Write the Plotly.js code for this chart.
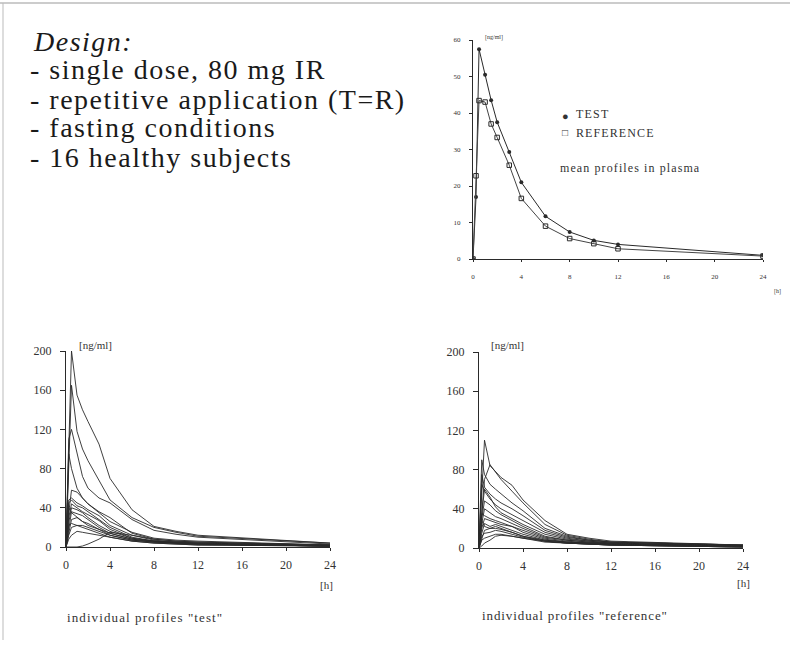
<!DOCTYPE html>
<html>
<head>
<meta charset="utf-8">
<script src="https://cdn.plot.ly/plotly-3.0.1.min.js"></script>
<style>html,body{margin:0;padding:0;background:#fff;}#chart{width:790px;height:649px;}</style>
</head>
<body>
<div id="chart"></div>
<script>
// Sampling times [h]
const times = [0, 0.25, 0.5, 1, 1.5, 2, 3, 4, 6, 8, 10, 12, 24];

// Mean profiles in plasma [ng/ml]
const meanTest = [0, 17, 57.5, 50.5, 43.5, 37.5, 29.3, 21, 11.7, 7.4, 5.1, 4, 1];
const meanReference = [0, 22.8, 43.4, 43, 37, 33.3, 25.7, 16.6, 9, 5.6, 4.2, 2.8, 0.8];

// Individual profiles "test" [ng/ml], 16 subjects
const test01 = [0, 95, 200, 155, 140, 128, 105, 70, 38, 21, 16, 12, 4];
const test02 = [0, 80, 165, 118, 100, 88, 68, 48, 30, 20, 15, 11, 4];
const test03 = [0, 110, 120, 95, 72, 60, 50, 45, 28, 17, 13, 10, 3];
const test04 = [0, 95, 80, 60, 50, 44, 35, 26, 15, 9, 7, 6, 2];
const test05 = [0, 35, 58, 56, 50, 44, 36, 30, 14, 8, 6, 5, 2];
const test06 = [0, 48, 50, 45, 42, 38, 32, 22, 12, 7, 5, 4, 2];
const test07 = [0, 45, 48, 42, 40, 36, 28, 20, 10, 6, 5, 4, 2];
const test08 = [0, 30, 44, 40, 36, 33, 27, 18, 9, 6, 5, 4, 1];
const test09 = [0, 25, 40, 38, 35, 30, 22, 16, 9, 6, 4, 3, 1];
const test10 = [0, 20, 36, 34, 32, 28, 20, 14, 8, 6, 4, 3, 1];
const test11 = [0, 40, 35, 30, 26, 22, 18, 14, 8, 5, 4, 3, 1];
const test12 = [0, 15, 28, 30, 26, 24, 18, 12, 7, 5, 4, 3, 1];
const test13 = [0, 22, 24, 22, 20, 18, 14, 10, 6, 4, 3, 2, 1];
const test14 = [0, 12, 20, 22, 22, 20, 16, 12, 7, 5, 4, 3, 1];
const test15 = [0, 8, 12, 16, 15, 14, 12, 10, 6, 4, 3, 2, 1];
const test16 = [0, 0, 0, 0, 1, 3, 8, 15, 12, 8, 6, 5, 2];

// Individual profiles "reference" [ng/ml], 16 subjects
const ref01 = [0, 60, 110, 84, 78, 72, 64, 49, 28, 14, 10, 7, 3];
const ref02 = [0, 40, 70, 85, 78, 70, 58, 46, 24, 13, 9, 6, 3];
const ref03 = [0, 90, 75, 65, 60, 55, 46, 38, 20, 12, 8, 6, 3];
const ref04 = [0, 75, 62, 55, 50, 46, 40, 33, 18, 11, 8, 6, 3];
const ref05 = [0, 65, 58, 50, 44, 40, 34, 28, 16, 10, 7, 5, 2];
const ref06 = [0, 35, 60, 52, 42, 36, 30, 24, 14, 9, 7, 5, 2];
const ref07 = [0, 30, 48, 44, 38, 34, 28, 22, 12, 8, 6, 5, 2];
const ref08 = [0, 25, 40, 36, 32, 30, 25, 20, 11, 8, 6, 4, 2];
const ref09 = [0, 35, 33, 30, 28, 26, 22, 18, 10, 7, 5, 4, 2];
const ref10 = [0, 20, 30, 28, 26, 24, 22, 16, 9, 6, 5, 4, 2];
const ref11 = [0, 15, 25, 22, 24, 22, 18, 14, 8, 6, 5, 4, 2];
const ref12 = [0, 28, 22, 20, 20, 19, 16, 12, 7, 5, 4, 3, 1];
const ref13 = [0, 10, 18, 20, 22, 20, 16, 12, 8, 6, 5, 4, 2];
const ref14 = [0, 12, 15, 16, 18, 17, 14, 11, 7, 5, 4, 3, 1];
const ref15 = [0, 8, 10, 12, 14, 14, 12, 10, 6, 5, 4, 3, 1];
const ref16 = [0, 2, 5, 8, 12, 13, 12, 10, 7, 5, 4, 3, 1];

const testSubjects = [test01, test02, test03, test04, test05, test06, test07, test08,
  test09, test10, test11, test12, test13, test14, test15, test16];
const refSubjects = [ref01, ref02, ref03, ref04, ref05, ref06, ref07, ref08,
  ref09, ref10, ref11, ref12, ref13, ref14, ref15, ref16];

// Tick labels
const meanYTicks = [0, 10, 20, 30, 40, 50, 60];
const meanXTicks = [0, 4, 8, 12, 16, 20, 24];
const indYTicks = [0, 40, 80, 120, 160, 200];
const indXTicks = [0, 4, 8, 12, 16, 20, 24];

// Text
const designLines = ["<i>Design:</i>", "- single dose, 80 mg IR", "- repetitive application (T=R)",
  "- fasting conditions", "- 16 healthy subjects"];

const W = 790, H = 649;
const px = v => v / W;
const py = v => 1 - v / H;
const ink = '#2a2a2a';
const serif = 'Liberation Serif, DejaVu Serif, serif';
const spaced = (t, s) => '<span style="letter-spacing:' + s + 'px">' + t + '</span>';

const traces = [];
traces.push({x: times, y: meanTest, xaxis: 'x', yaxis: 'y', mode: 'lines+markers',
  line: {color: ink, width: 1}, marker: {symbol: 'circle', size: 4, color: ink},
  showlegend: false, hoverinfo: 'skip'});
traces.push({x: times, y: meanReference, xaxis: 'x', yaxis: 'y', mode: 'lines+markers',
  line: {color: '#444', width: 1}, marker: {symbol: 'square-open', size: 4.5, color: ink, line: {width: 1}},
  showlegend: false, hoverinfo: 'skip'});
testSubjects.forEach(s => traces.push({x: times, y: s, xaxis: 'x2', yaxis: 'y2', mode: 'lines',
  line: {color: ink, width: 0.9}, showlegend: false, hoverinfo: 'skip'}));
refSubjects.forEach(s => traces.push({x: times, y: s, xaxis: 'x3', yaxis: 'y3', mode: 'lines',
  line: {color: ink, width: 0.9}, showlegend: false, hoverinfo: 'skip'}));

function axis(domain, range, ticks, fontSize, anchor, standoff, ticklen) {
  return {domain: domain, range: range, tickvals: ticks, ticktext: ticks.map(String),
    showgrid: false, zeroline: false, showline: true, linecolor: ink, linewidth: 1,
    ticks: 'outside', ticklen: ticklen, tickcolor: ink, ticklabelstandoff: standoff,
    tickfont: {family: serif, size: fontSize, color: '#333'},
    anchor: anchor, fixedrange: true};
}

const layout = {
  width: W, height: H, margin: {l: 0, r: 0, t: 0, b: 0},
  paper_bgcolor: '#fff', plot_bgcolor: 'rgba(0,0,0,0)', showlegend: false,
  xaxis: axis([px(473), px(763)], [0, 24], meanXTicks, 7, 'y', 9, 2),
  yaxis: axis([py(259), py(40)], [0, 60], meanYTicks, 7, 'x', 7, 3),
  xaxis2: axis([px(66), px(330)], [0, 24], indXTicks, 12, 'y2', 4, 3),
  yaxis2: axis([py(547), py(351)], [0, 200], indYTicks, 12, 'x2', 6, 5),
  xaxis3: axis([px(479), px(743)], [0, 24], indXTicks, 12, 'y3', 4, 3),
  yaxis3: axis([py(548), py(352)], [0, 200], indYTicks, 12, 'x3', 6, 5),
  shapes: [
    {type: 'line', xref: 'paper', yref: 'paper', x0: 0, x1: 1, y0: py(3), y1: py(3), line: {color: '#999', width: 1}},
    {type: 'line', xref: 'paper', yref: 'paper', x0: px(3), x1: px(3), y0: py(3), y1: py(640), line: {color: '#bbb', width: 1}}
  ],
  annotations: []
};

const lineY = [41, 70, 99, 128, 157];
designLines.forEach((t, i) => layout.annotations.push({text: spaced(t, 1.5), xref: 'paper', yref: 'paper',
  x: px(i === 0 ? 31 : 28), y: py(lineY[i]), xanchor: 'left', yanchor: 'middle', showarrow: false,
  font: {family: serif, size: 28, color: '#1a1a1a'}}));

function note(text, x, y, size, sp) {
  layout.annotations.push({text: sp ? spaced(text, sp) : text, xref: 'paper', yref: 'paper', x: px(x), y: py(y),
    xanchor: 'left', yanchor: 'middle', showarrow: false,
    font: {family: serif, size: size, color: '#333'}});
}
note('[ng/ml]', 483, 37, 6);
note('[h]', 772, 291, 6);
note('●', 560, 116, 11);
note('TEST', 574, 114, 12, 1.2);
note('□', 560, 133, 10);
note('REFERENCE', 574, 133, 12, 1.1);
note('mean profiles in plasma', 558, 168, 12, 1.1);
note('[ng/ml]', 77, 345, 11);
note('[h]', 318, 585, 11);
note('individual profiles "test"', 65, 617, 13, 1.1);
note('[ng/ml]', 489, 345, 11);
note('[h]', 735, 583, 11);
note('individual profiles "reference"', 480, 615, 13, 0.9);

Plotly.newPlot('chart', traces, layout, {staticPlot: true, displayModeBar: false});
</script>
</body>
</html>
